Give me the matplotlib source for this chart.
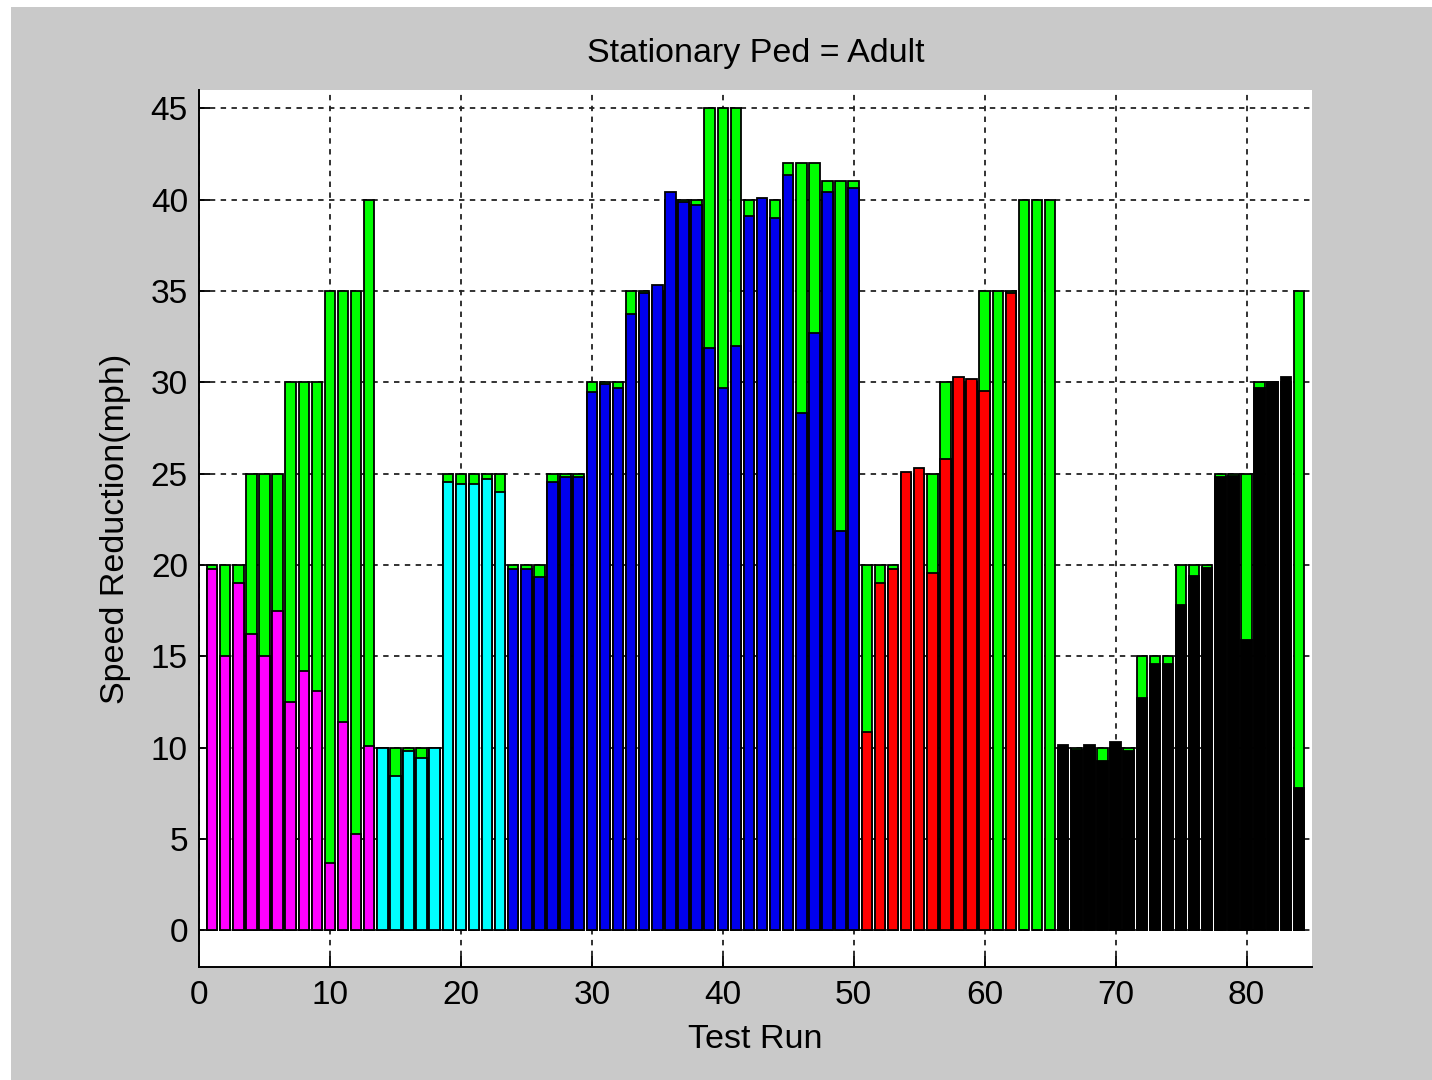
import matplotlib
matplotlib.use('Agg')
import matplotlib.pyplot as plt
from matplotlib.patches import Rectangle
import numpy as np

# target speed per run (green bars)
target = [20, 20, 20, 25, 25, 25, 30, 30, 30, 35, 35, 35, 40,
          10, 10, 10, 10, 10, 25, 25, 25, 25, 25,
          20, 20, 20, 25, 25, 25, 30, 30, 30, 35, 35, 35, 40, 40, 40,
          45, 45, 45, 40, 40, 40, 42, 42, 42, 41, 41, 41,
          20, 20, 20, 25, 25, 25, 30, 30, 30, 35, 35, 35, 40, 40, 40,
          10, 10, 10, 10, 10, 10, 15, 15, 15, 20, 20, 20, 25, 25, 25,
          30, 30, 30, 35]

# measured speed reduction per run (coloured bars)
reduction = [19.8, 15.0, 19.0, 16.2, 15.0, 17.5, 12.5, 14.2, 13.1, 3.7, 11.4, 5.3, 10.1,
             9.97, 8.45, 9.8, 9.45, 9.97, 24.55, 24.45, 24.45, 24.7, 24.0,
             19.8, 19.8, 19.35, 24.55, 24.8, 24.8, 29.45, 29.9, 29.7, 33.75, 34.9, 35.3,
             40.4, 39.85, 39.7, 31.9, 29.7, 32.0, 39.1, 40.1, 39.0, 41.35, 28.3, 32.7,
             40.4, 21.85, 40.65,
             10.85, 19.0, 19.8, 25.1, 25.3, 19.55, 25.8, 30.3, 30.2, 29.5, 0, 34.9, 0, 0, 0,
             10.15, 9.85, 10.15, 9.25, 10.3, 9.8, 12.75, 14.6, 14.6, 17.8, 19.4, 19.85,
             24.8, 24.85, 15.9, 29.7, 30.0, 30.3, 7.8]

# colour of each group of runs and how many runs it holds
group_colors = ['#ff00ff', '#00ffff', '#0000ee', '#ff0000', '#000000']
group_sizes = [13, 10, 27, 15, 19]

runs = np.arange(1, len(target) + 1)
colors = [c for c, n in zip(group_colors, group_sizes) for _ in range(n)]

plt.rcParams['font.family'] = ['Liberation Sans', 'DejaVu Sans']
plt.rcParams['font.size'] = 24

W, H = 1432, 1080
fig = plt.figure(figsize=(W / 100, H / 100), dpi=100)
fig.patch.set_facecolor('white')
fig.patches.append(Rectangle((11 / W, 0), 1 - 11 / W, 1 - 7 / H,
                             transform=fig.transFigure, facecolor='#c9c9c9',
                             edgecolor='none', zorder=-1))

ax = fig.add_axes([199 / W, 1 - 967 / H, (1312 - 199) / W, (967 - 90) / H])
ax.set_facecolor('white')

ax.bar(runs, target, width=0.8, color='#00ff00', edgecolor='black', linewidth=1.3, zorder=2)
ax.bar(runs, reduction, width=0.8, color=colors, edgecolor='black', linewidth=1.3, zorder=3)

ax.set_xlim(0, 85)
ax.set_ylim(-2, 46)
ax.set_xticks(range(0, 81, 10))
ax.set_yticks(range(0, 46, 5))

ax.grid(True, color='#222222', linestyle=(0, (3, 3)), linewidth=1.3, zorder=1)
ax.set_axisbelow(True)

for side in ['top', 'right']:
    ax.spines[side].set_visible(False)
for side in ['left', 'bottom']:
    ax.spines[side].set_linewidth(1.4)

ax.tick_params(axis='both', direction='in', length=8, width=1.3, labelsize=24)
ax.tick_params(axis='x', pad=9)
ax.tick_params(axis='y', pad=8)

ax.set_title('Stationary Ped = Adult', fontsize=24.5, pad=20)
ax.set_xlabel('Test Run', fontsize=24.5, labelpad=10)
ax.set_ylabel('Speed Reduction(mph)', fontsize=24.5, labelpad=14)

fig.savefig('out.png', dpi=100)
